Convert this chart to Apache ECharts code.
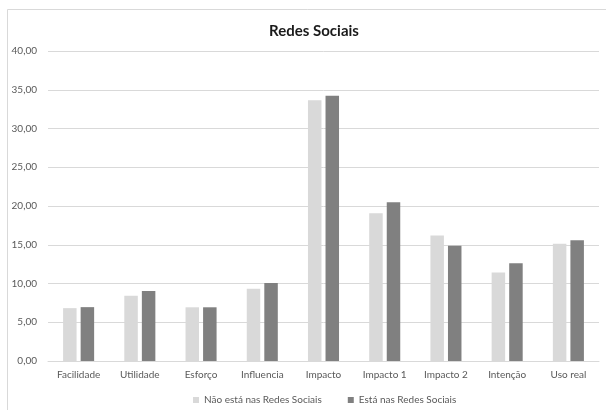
<!DOCTYPE html>
<html>
<head>
<meta charset="utf-8">
<script src="https://cdn.jsdelivr.net/npm/echarts@6/dist/echarts.min.js"></script>
<style>
  html, body { margin: 0; padding: 0; background: #ffffff; }
  #chart { width: 606px; height: 410px; }
</style>
</head>
<body>
<div id="chart"></div>
<script>
// Categories and series values
const categories = ['Facilidade', 'Utilidade', 'Esforço', 'Influencia', 'Impacto', 'Impacto 1', 'Impacto 2', 'Intenção', 'Uso real'];
const seriesNames = ['Não está nas Redes Sociais', 'Está nas Redes Sociais'];
const naoEsta = [6.82, 8.43, 6.93, 9.33, 33.65, 19.05, 16.20, 11.42, 15.12];
const esta = [6.95, 9.03, 6.93, 10.06, 34.24, 20.47, 14.88, 12.62, 15.58];
const yTicks = { min: 0, max: 40, interval: 5 };

const FONT = 'Lato, "Open Sans", sans-serif';
const LABEL = '#595959';

const chart = echarts.init(document.getElementById('chart'), null, { renderer: 'canvas' });

chart.setOption({
  animation: false,
  backgroundColor: '#ffffff',
  title: {
    text: 'Redes Sociais',
    left: 309,
    textAlign: 'center',
    top: 19,
    textStyle: { fontFamily: FONT, fontSize: 15, fontWeight: 'bold', color: '#1a1a1a' }
  },
  graphic: [{
    type: 'rect',
    shape: { x: 7.5, y: 9.5, width: 640, height: 440 },
    style: { fill: 'none', stroke: '#d9d9d9', lineWidth: 1 },
    silent: true
  }],
  legend: {
    data: seriesNames,
    left: 188,
    top: 390,
    icon: 'rect',
    itemWidth: 6,
    itemHeight: 6,
    itemGap: 26,
    itemStyle: { borderWidth: 0 },
    textStyle: { fontFamily: FONT, fontSize: 10, color: LABEL }
  },
  grid: { left: 48, right: 7, top: 51, bottom: 49, containLabel: false },
  xAxis: {
    type: 'category',
    data: categories,
    axisLine: { show: true, lineStyle: { color: '#d9d9d9', width: 1 } },
    axisTick: { show: false },
    axisLabel: { fontFamily: FONT, fontSize: 10, color: LABEL, margin: 9, interval: 0 }
  },
  yAxis: {
    type: 'value',
    min: yTicks.min,
    max: yTicks.max,
    interval: yTicks.interval,
    axisLine: { show: false },
    axisTick: { show: false },
    splitLine: { lineStyle: { color: '#d9d9d9', width: 1 } },
    axisLabel: {
      fontFamily: FONT, fontSize: 10, color: LABEL, margin: 11,
      formatter: v => v.toFixed(2).replace('.', ',')
    }
  },
  series: [
    {
      name: seriesNames[0],
      type: 'bar',
      data: naoEsta,
      barWidth: 13.5,
      barGap: '30%',
      itemStyle: { color: '#d9d9d9' }
    },
    {
      name: seriesNames[1],
      type: 'bar',
      data: esta,
      barWidth: 13.5,
      itemStyle: { color: '#808080' }
    }
  ]
});
</script>
</body>
</html>
